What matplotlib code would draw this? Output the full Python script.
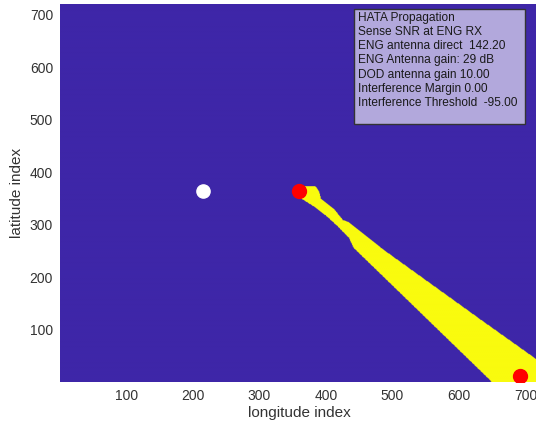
import numpy as np
import matplotlib.pyplot as plt
from matplotlib.path import Path
from matplotlib.colors import ListedColormap
from matplotlib.patches import Rectangle

plt.rcParams['font.family'] = ['Liberation Sans', 'DejaVu Sans']

grid_size = 720

# outline of the interfered (yellow) area, in grid index units
beam_x = [366, 384, 389, 392, 411, 425, 434, 482, 632, 715, 753, 753,
          667, 644, 441, 434, 417, 399, 381, 366, 354, 351]
beam_y = [373, 373, 364, 350, 331, 309, 305, 256, 119, 44, 8, -28,
          -28, 6, 256, 275, 297, 318, 335, 347, 356, 369]

# transmitter (white) and receivers (red)
tx_x, tx_y = 216, 364
rx_x = [360, 692]
rx_y = [364, 11]

ticks = [100, 200, 300, 400, 500, 600, 700]

info_lines = [
    "HATA Propagation",
    "Sense SNR at ENG RX",
    "ENG antenna direct  142.20",
    "ENG Antenna gain: 29 dB",
    "DOD antenna gain 10.00",
    "Interference Margin 0.00",
    "Interference Threshold  -95.00",
]

# rasterise the outline onto the grid
idx = np.arange(1, grid_size + 1)
X, Y = np.meshgrid(idx, idx)
outline = Path(np.column_stack([beam_x, beam_y]))
mask = outline.contains_points(np.column_stack([X.ravel(), Y.ravel()]))
mask = mask.reshape(X.shape).astype(float)

fig = plt.figure(figsize=(5.36, 4.29), dpi=100)
ax = fig.add_axes([0.112, 0.1096, 0.894, 0.881])

cmap = ListedColormap(['#3E26A8', '#F9FB0E'])
ax.imshow(mask, origin='lower', cmap=cmap, vmin=0, vmax=1,
          extent=(0.5, grid_size + 0.5, 0.5, grid_size + 0.5),
          aspect='auto', interpolation='antialiased')

ax.plot(tx_x, tx_y, 'o', color='white', markersize=9.5)
ax.plot(rx_x, rx_y, 'o', color='red', markersize=10, linestyle='none')

ax.set_xlim(0.5, grid_size + 0.5)
ax.set_ylim(0.5, grid_size + 0.5)
ax.set_xticks(ticks)
ax.set_yticks(ticks)
ax.tick_params(length=0, labelsize=10, colors='#333333', pad=5)
for s in ax.spines.values():
    s.set_visible(False)

ax.set_xlabel("longitude index", fontsize=11, color='#333333', labelpad=2)
ax.set_ylabel("latitude index", fontsize=11, color='#333333', labelpad=4)

# info box in the upper right corner
fig.patches.append(Rectangle((0.660, 0.711), 0.319, 0.268,
                             transform=fig.transFigure, facecolor='#B2A8DC',
                             edgecolor='#333333', linewidth=1))
fig.text(0.667, 0.972, "\n".join(info_lines), fontsize=8.6, va='top',
         ha='left', color='#1a1a1a', linespacing=1.24)

fig.savefig("out.png", dpi=100)
